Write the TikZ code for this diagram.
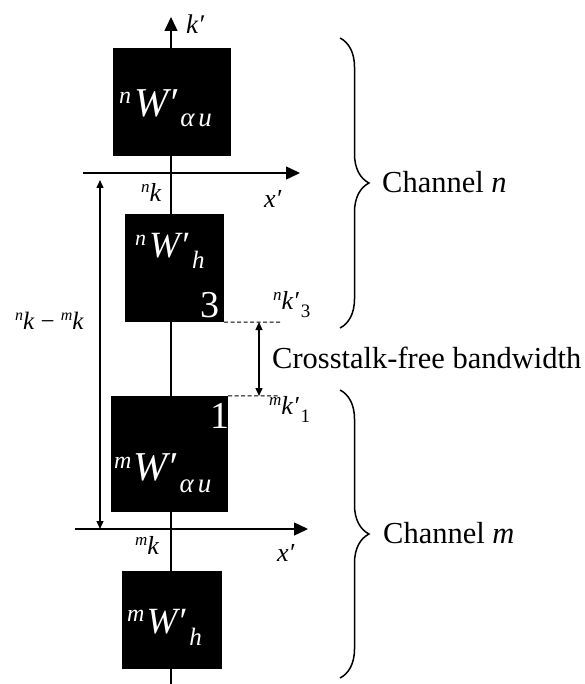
\documentclass[tikz,border=0pt]{standalone}
\usepackage{fontspec}
\setmainfont{Liberation Serif}
\usetikzlibrary{arrows.meta,decorations.pathreplacing}
\newcommand\fsz[1]{\fontsize{#1}{#1}\selectfont}
\begin{document}
\begin{tikzpicture}[x=1pt,y=-1pt,
  blackbox/.style={fill=black,draw=none,inner sep=0pt},
  axisline/.style={line width=1.4pt,-{Triangle[length=14pt,width=13pt]}},
  dimarrow/.style={line width=1.2pt,{Triangle[length=8pt,width=7pt]}-{Triangle[length=8pt,width=7pt]}},
  guide/.style={line width=1pt,dash pattern=on 4pt off 2.5pt},
  brc/.style={line width=1.5pt,decorate,decoration={brace,amplitude=29pt}},
  lab/.style={inner sep=0pt,anchor=base west,font=\itshape},
  wlab/.style={lab,text=white},
  big/.style={inner sep=0pt,anchor=base west,font={\fsz{30.5}}},
]
\useasboundingbox (0,0) rectangle (585,684);
% vertical axis
\coordinate (kbot) at (171,684);
\coordinate (ktop) at (171,17);
\draw[axisline] (kbot) -- (ktop);
% boxes
\node[blackbox,minimum width=118pt,minimum height=108pt] (b1) at (172,102) {};
\node[blackbox,minimum width=99pt,minimum height=108pt] (b2) at (174.5,268) {};
\node[blackbox,minimum width=117pt,minimum height=116pt] (b3) at (169.5,454) {};
\node[blackbox,minimum width=100pt,minimum height=98pt] (b4) at (172,620) {};
% horizontal axes
\coordinate (xa1) at (83,173);
\coordinate (xb1) at (300,173);
\draw[axisline] (xa1) -- (xb1);
\coordinate (xa2) at (75,529);
\coordinate (xb2) at (308,529);
\draw[axisline] (xa2) -- (xb2);
% left dimension
\coordinate (da) at (100,180);
\coordinate (db) at (100,529);
\draw[dimarrow] (da) -- (db);
% dashed guides and crosstalk arrow
\coordinate (g3) at (282,322);
\draw[guide] (b2.south east) -- (g3);
\coordinate (g1) at (278,396);
\draw[guide] (b3.north east) -- (g1);
\coordinate (ca) at (259,322);
\coordinate (cb) at (259,396);
\draw[dimarrow] (ca) -- (cb);
% braces
\coordinate (bn1) at (340,38);
\coordinate (bn2) at (340,328);
\draw[brc] (bn1) -- (bn2);
\coordinate (bm1) at (340,390);
\coordinate (bm2) at (340,678);
\draw[brc] (bm1) -- (bm2);
% big texts
\node[big] (chn) at (382,193) {Channel \textit{n}};
\node[big] (chm) at (383,543) {Channel \textit{m}};
\node[big] (ctf) at (272,368) {Crosstalk-free bandwidth};
% box labels
\node[wlab] (l1) at (119,117) {\raisebox{13pt}{\fsz{24}n}\kern3pt{\fsz{41}W′}\kern3pt\raisebox{-10pt}{\fsz{27}α\kern4pt u}};
\node[wlab] (l2) at (135,258) {\raisebox{12pt}{\fsz{22}n}\kern3pt{\fsz{37}W′}\kern4pt\raisebox{-10pt}{\fsz{25}h}};
\node[wlab,font=\upshape] (n3) at (200,317) {\fsz{38}3};
\node[wlab] (l3) at (114,480) {\raisebox{12pt}{\fsz{24}m}\kern2pt{\fsz{41}W′}\kern3pt\raisebox{-12pt}{\fsz{27}α\kern4pt u}};
\node[wlab,font=\upshape] (n1) at (210,428) {\fsz{38}1};
\node[wlab] (l4) at (127,633) {\raisebox{12pt}{\fsz{24}m}\kern2pt{\fsz{37}W′}\kern4pt\raisebox{-12pt}{\fsz{25}h}};
% axis labels
\node[lab] (kp) at (186,34) {\fsz{27}k′};
\node[lab] (nk) at (141,202) {\raisebox{9pt}{\fsz{17}n}{\fsz{26}k}};
\node[lab] (xp1) at (264,208) {\fsz{26}x′};
\node[lab] (mk) at (135,554) {\raisebox{9pt}{\fsz{17}m}{\fsz{26}k}};
\node[lab] (xp2) at (277,561) {\fsz{26}x′};
\node[lab] (diff) at (15,329) {\raisebox{9pt}{\fsz{16}n}{\fsz{25}k \upshape−\itshape\ }\raisebox{9pt}{\fsz{16}m}{\fsz{25}k}};
\node[lab] (nk3) at (273,309) {\raisebox{9pt}{\fsz{17}n}{\fsz{26}k′}\kern2pt\raisebox{-8pt}{\fsz{19}\upshape 3}};
\node[lab] (mk1) at (269,414) {\raisebox{9pt}{\fsz{17}m}{\fsz{26}k′}\kern2pt\raisebox{-8pt}{\fsz{19}\upshape 1}};
\end{tikzpicture}
\end{document}
